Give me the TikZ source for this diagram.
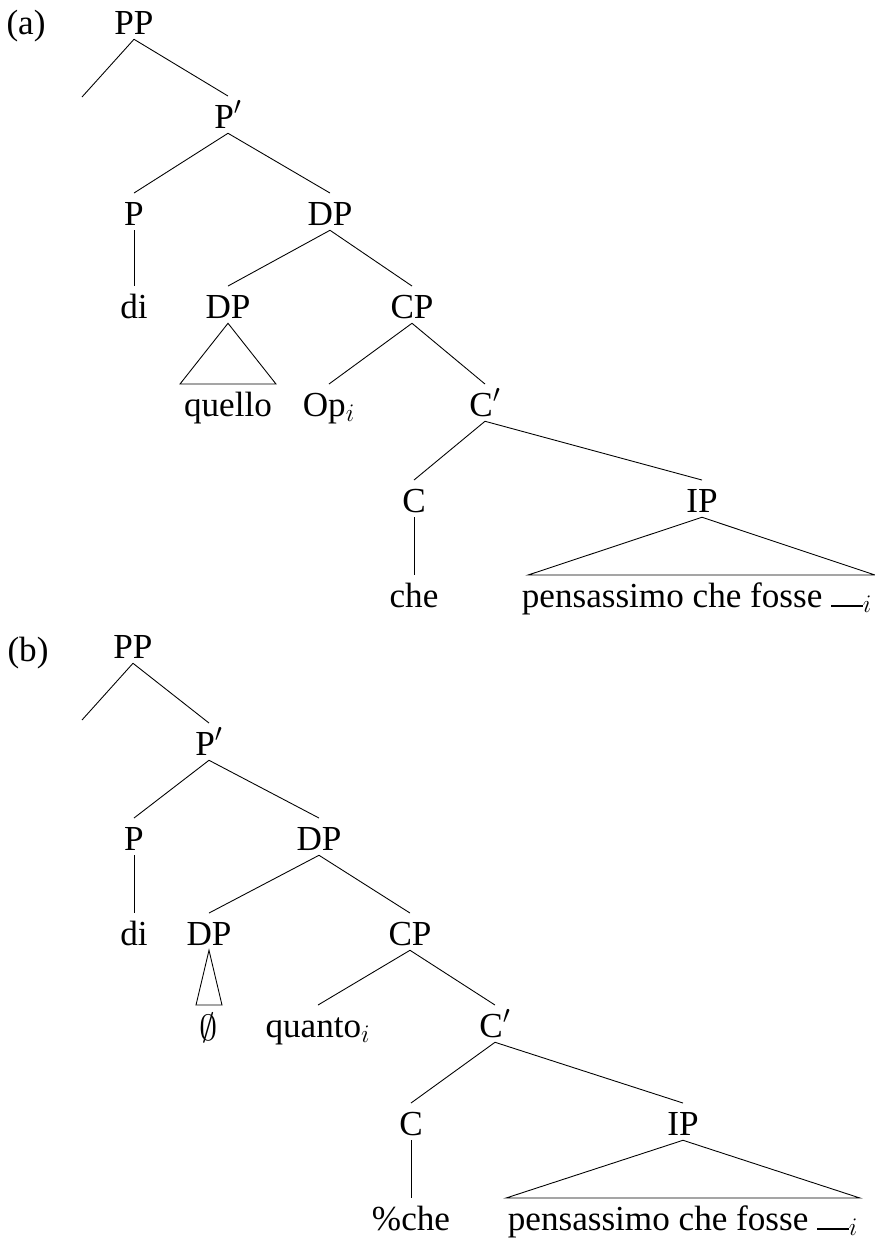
\documentclass[tikz,border=0pt]{standalone}
\usepackage{amsmath, amssymb}
\usepackage{fontspec}
\setmainfont{Liberation Serif}
\usepackage{tikz}
\usetikzlibrary{calc}

\begin{document}
\begin{tikzpicture}[x=0.02cm, y=-0.02cm,
    lbl/.style={anchor=base, inner sep=0pt, text height=18pt, text depth=2.8pt,
                font=\fontsize{20}{23}\selectfont},
    edge/.style={line width=0.5pt}]
    \useasboundingbox (0,0) rectangle (875,1245);

    % (a)
    \node[lbl] (tagA) at (26,34) {(a)};
    \node[lbl] (PPa) at (134,34) {PP};
    \coordinate (leftA) at (82,97);
    \node[lbl] (Pbara) at (228,128) {P$'$};
    \node[lbl] (Pa) at (134,225) {P};
    \node[lbl] (DPa) at (330,225) {DP};
    \node[lbl] (dia) at (134,318) {di};
    \node[lbl] (DPsa) at (228,318) {DP};
    \node[lbl] (CPa) at (412,318) {CP};
    \node[lbl] (quelloa) at (228,416) {quello};
    \node[lbl] (Opa) at (329,416) {Op$_i$};
    \node[lbl] (Cbara) at (485,416) {C$'$};
    \node[lbl] (Ca) at (414,512) {C};
    \node[lbl] (IPa) at (702,512) {IP};
    \node[lbl] (chea) at (414,607) {che};
    \node[lbl] (texta) at (697,607) {pensassimo che fosse \rule{18pt}{1.2pt}$_i$};

    \draw[edge] (PPa.south) -- (leftA);
    \draw[edge] (PPa.south) -- (Pbara.north);
    \draw[edge] (Pbara.south) -- (Pa.north);
    \draw[edge] (Pbara.south) -- (DPa.north);
    \draw[edge] (Pa.south) -- (dia.north);
    \draw[edge] (DPa.south) -- (DPsa.north);
    \draw[edge] (DPa.south) -- (CPa.north);
    \draw[edge] (DPsa.south) -- ($(quelloa.north)+(-48,0)$) -- ($(quelloa.north)+(48,0)$) -- cycle;
    \draw[edge] (CPa.south) -- (Opa.north);
    \draw[edge] (CPa.south) -- (Cbara.north);
    \draw[edge] (Cbara.south) -- (Ca.north);
    \draw[edge] (Cbara.south) -- (IPa.north);
    \draw[edge] (Ca.south) -- (chea.north);
    \draw[edge] (IPa.south) -- ($(texta.north)+(-169,0)$) -- ($(texta.north)+(178,0)$) -- cycle;

    % (b)
    \node[lbl] (tagB) at (28,661) {(b)};
    \node[lbl] (PPb) at (133,658) {PP};
    \coordinate (leftB) at (82,720);
    \node[lbl] (Pbarb) at (209,755) {P$'$};
    \node[lbl] (Pb) at (134,850) {P};
    \node[lbl] (DPb) at (319,850) {DP};
    \node[lbl] (dib) at (134,945) {di};
    \node[lbl] (DPsb) at (209,945) {DP};
    \node[lbl] (CPb) at (410,945) {CP};
    \node[lbl] (nullb) at (209,1040) {$\emptyset$};
    \node[lbl] (quantob) at (318,1037) {quanto$_i$};
    \node[lbl] (Cbarb) at (495,1037) {C$'$};
    \node[lbl] (Cb) at (411,1135) {C};
    \node[lbl] (IPb) at (683,1135) {IP};
    \node[lbl] (cheb) at (411,1230) {\%che};
    \node[lbl] (textb) at (683,1230) {pensassimo che fosse \rule{18pt}{1.2pt}$_i$};

    \draw[edge] (PPb.south) -- (leftB);
    \draw[edge] (PPb.south) -- (Pbarb.north);
    \draw[edge] (Pbarb.south) -- (Pb.north);
    \draw[edge] (Pbarb.south) -- (DPb.north);
    \draw[edge] (Pb.south) -- (dib.north);
    \draw[edge] (DPb.south) -- (DPsb.north);
    \draw[edge] (DPb.south) -- (CPb.north);
    \draw[edge] (DPsb.south) -- ($(nullb.north)+(-13,-3)$) -- ($(nullb.north)+(13,-3)$) -- cycle;
    \draw[edge] (CPb.south) -- (quantob.north);
    \draw[edge] (CPb.south) -- (Cbarb.north);
    \draw[edge] (Cbarb.south) -- (Cb.north);
    \draw[edge] (Cbarb.south) -- (IPb.north);
    \draw[edge] (Cb.south) -- (cheb.north);
    \draw[edge] (IPb.south) -- ($(textb.north)+(-177,0)$) -- ($(textb.north)+(177,0)$) -- cycle;
\end{tikzpicture}
\end{document}
